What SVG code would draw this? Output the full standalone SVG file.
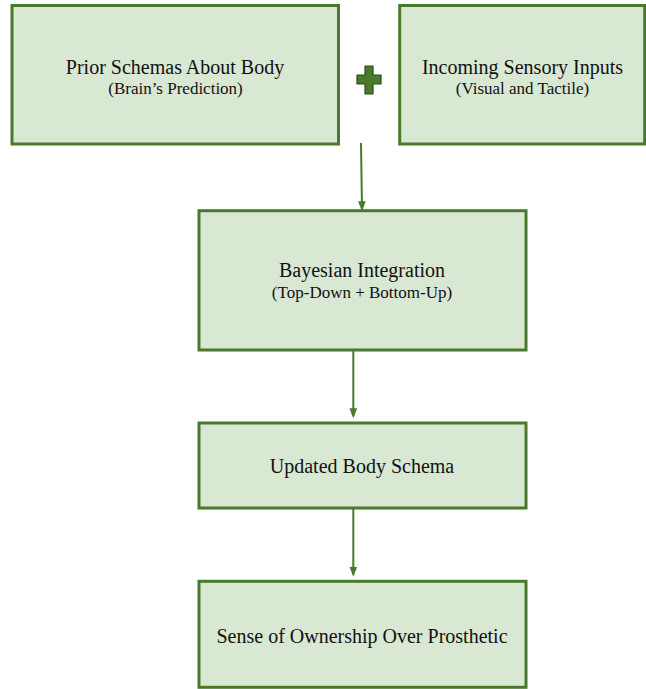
<svg xmlns="http://www.w3.org/2000/svg" width="646" height="689" viewBox="0 0 646 689">
<style>
.box{fill:#d9e8d3;stroke:#497a2c;stroke-width:3}
.t{font-family:"Liberation Serif","Times New Roman",serif;font-size:20px;fill:#111;text-anchor:middle}
.s{font-family:"Liberation Serif","Times New Roman",serif;font-size:17px;fill:#111;text-anchor:middle}
.conn{stroke:#497a2c;stroke-width:2;fill:none}
</style>
<defs>
<marker id="ah" markerWidth="10" markerHeight="13" refX="10" refY="5" orient="auto" markerUnits="userSpaceOnUse" viewBox="0 0 13 10">
<path d="M0,0 L13,5 L0,10 Z" fill="#497a2c"/>
</marker>
</defs>
<rect width="646" height="689" fill="#fff"/>
<g id="node-prior">
<rect class="box" x="12" y="5.5" width="326.5" height="138.5"/>
<text class="t" x="175" y="73.5">Prior Schemas About Body</text>
<text class="s" x="175.5" y="93.5">(Brain’s Prediction)</text>
</g>
<g id="node-plus">
<path d="M365,66 H373 V75 H381 V84 H373 V94 H365 V84 H357 V75 H365 Z" fill="#4a7a2c" stroke="#2c4a1a" stroke-width="1.2" stroke-linejoin="round"/>
</g>
<g id="node-sensory">
<rect class="box" x="399.7" y="5.5" width="245" height="138.5"/>
<text class="t" x="522.5" y="74">Incoming Sensory Inputs</text>
<text class="s" x="522.5" y="93.5">(Visual and Tactile)</text>
</g>
<g id="node-bayes">
<rect class="box" x="199" y="210.7" width="327" height="139.3"/>
<text class="t" x="362" y="277">Bayesian Integration</text>
<text class="s" x="362" y="298">(Top-Down + Bottom-Up)</text>
</g>
<g id="node-updated">
<rect class="box" x="199" y="423" width="327" height="85"/>
<text class="t" x="362" y="473">Updated Body Schema</text>
</g>
<g id="node-ownership">
<rect class="box" x="199" y="581.3" width="327" height="106"/>
<text class="t" x="362" y="643">Sense of Ownership Over Prosthetic</text>
</g>
<g id="connectors">
<line class="conn" x1="361" y1="143" x2="362" y2="209" marker-end="url(#ah)"/>
<line class="conn" x1="353.3" y1="350" x2="353.3" y2="416" marker-end="url(#ah)"/>
<line class="conn" x1="353.3" y1="508" x2="353.3" y2="574.5" marker-end="url(#ah)"/>
</g>
</svg>
